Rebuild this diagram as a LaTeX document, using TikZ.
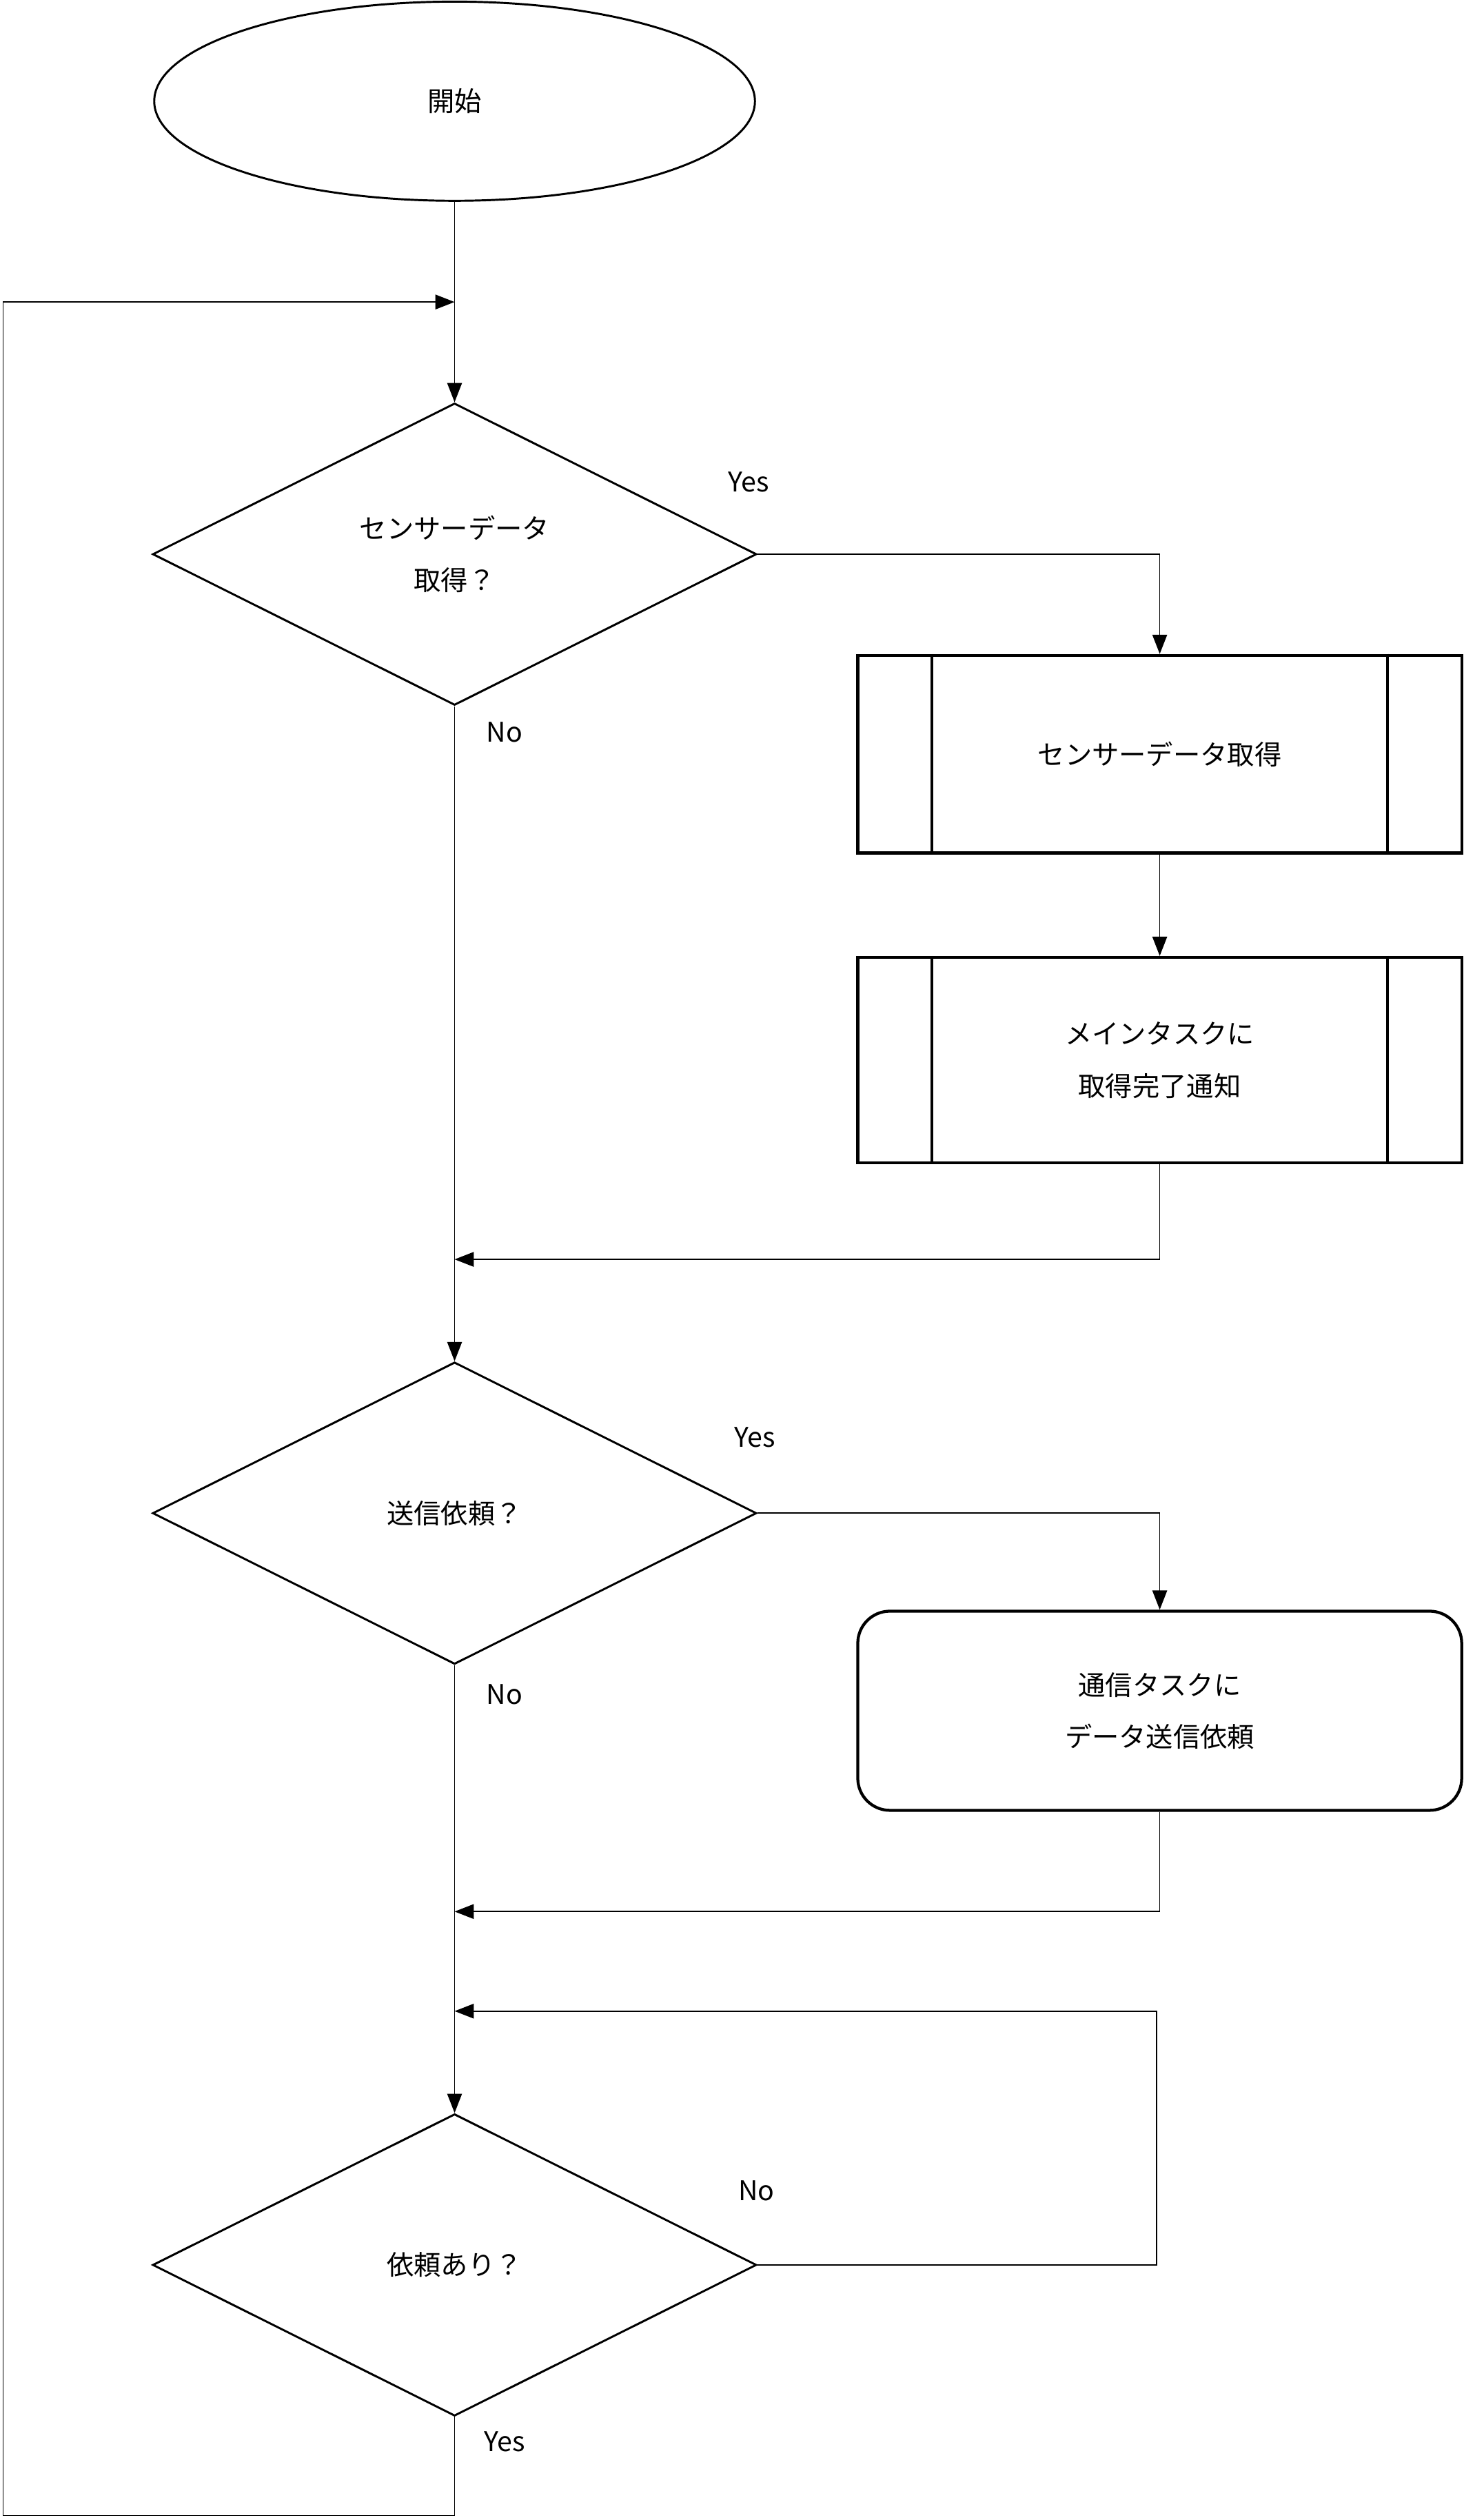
\documentclass[tikz,border=0pt]{standalone}
\usepackage{fontspec}
\setmainfont{Noto Sans CJK JP}
\usetikzlibrary{shapes.geometric,arrows.meta,calc}
\begin{document}
\begin{tikzpicture}[x=0.05cm,y=-0.05cm,
  every node/.style={font=\fontsize{24}{46}\selectfont},
  dec/.style={diamond,draw,line width=1.8pt,minimum width=18.8cm,minimum height=9.4cm,inner sep=0pt,align=center},
  proc/.style={rectangle,draw,line width=2.6pt,minimum width=18.8cm,align=center},
  rproc/.style={rectangle,rounded corners=1cm,draw,line width=2.6pt,minimum width=18.8cm,minimum height=6.2cm,align=center},
  conn/.style={line width=1pt},
  arr/.style={conn,-{Triangle[length=17pt,width=13pt]}},
  lbl/.style={font=\fontsize{24}{28}\selectfont}]
\useasboundingbox (0,0) rectangle (911,1568.8);
\node[ellipse,draw,line width=1.8pt,minimum width=18.7cm,minimum height=6.2cm] (start) at (283,63) {開始};
\node[dec] (d1) at (283,345) {センサーデータ\\取得？};
\node[dec] (d2) at (283,942) {送信依頼？};
\node[dec] (d3) at (283,1410) {依頼あり？};
\node[proc,minimum height=6.15cm] (b1) at (722,469.5) {センサーデータ取得};
\node[proc,minimum height=6.4cm] (b2) at (722,660) {メインタスクに\\取得完了通知};
\node[rproc] (b3) at (722,1065) {通信タスクに\\データ送信依頼};
\foreach \b in {b1,b2}{
  \draw[line width=2.6pt] ($(\b.north west)+(47,0)$) -- ($(\b.south west)+(47,0)$);
  \draw[line width=2.6pt] ($(\b.north east)+(-47,0)$) -- ($(\b.south east)+(-47,0)$);
}
\coordinate (j0) at (283,188);
\coordinate (j1) at (283,784);
\coordinate (j2) at (283,1190);
\coordinate (j3) at (283,1252);
\draw[conn] (start.south) -- (j0);
\draw[arr] (j0) -- (d1.north);
\draw[arr] (d1.east) -| (b1.north);
\draw[arr] (b1.south) -- (b2.north);
\draw[arr] (b2.south) |- (j1);
\draw[arr] (d1.south) -- (d2.north);
\draw[arr] (d2.east) -| (b3.north);
\draw[arr] (b3.south) |- (j2);
\draw[arr] (d2.south) -- (d3.north);
\draw[arr] (d3.east) -- (720,1410) -- (720,1252) -- (j3);
\draw[arr] (d3.south) -- (283,1566) -- (2,1566) -- (2,188) -- (j0);
\node[lbl] (y1) at (466,300) {Yes};
\node[lbl] (n1) at (314,456) {No};
\node[lbl] (y2) at (470,895) {Yes};
\node[lbl] (n2) at (314,1055) {No};
\node[lbl] (n3) at (471,1364) {No};
\node[lbl] (y3) at (314,1520) {Yes};
\end{tikzpicture}
\end{document}
